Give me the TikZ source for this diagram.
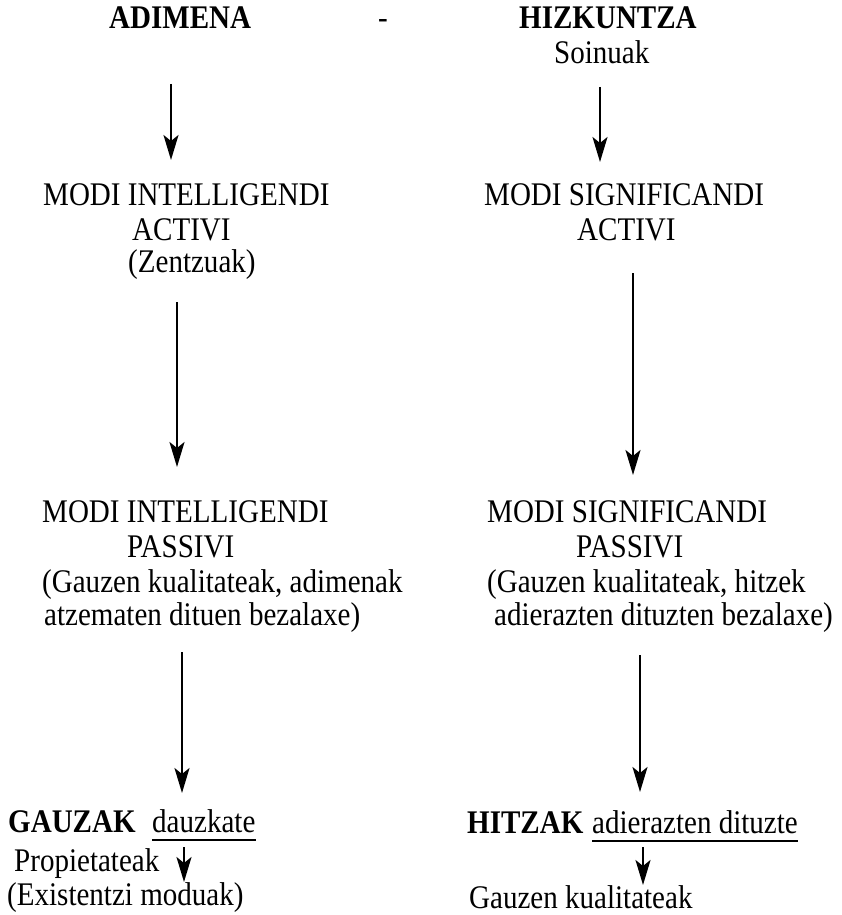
\documentclass[tikz,border=0pt]{standalone}
\usepackage{fontspec}
\setmainfont{Liberation Serif}[FakeStretch=0.88]
\usepackage{tikz}
\usetikzlibrary{arrows.meta}
\tikzstyle{txt}=[inner sep=0pt,anchor=base west,font=\fontsize{33}{37}\selectfont]
\tikzstyle{edge} = [draw,line width=2.2pt,-{Stealth[length=25pt,width=15pt,inset=6pt]}]
\tikzstyle{uline} = [draw,line width=1.2pt]

\begin{document}
\begin{tikzpicture}[x=1pt,y=-1pt]
      \useasboundingbox (0,0) rectangle (842,915);
      % header
      \node[txt] (adim) at (109,29) {\bfseries ADIMENA};
      \node[txt] (dash) at (378,29) {-};
      \node[txt] (hizk) at (519,29) {\bfseries HIZKUNTZA};
      \node[txt] (soin) at (554,64) {Soinuak};
      % activi
      \node[txt] (mia1) at (43,205) {MODI INTELLIGENDI};
      \node[txt] (mia2) at (132,240) {ACTIVI};
      \node[txt] (mia3) at (128,272) {(Zentzuak)};
      \node[txt] (msa1) at (484,205) {MODI SIGNIFICANDI};
      \node[txt] (msa2) at (577,240) {ACTIVI};
      % passivi
      \node[txt] (mip1) at (42,522) {MODI INTELLIGENDI};
      \node[txt] (mip2) at (127,557) {PASSIVI};
      \node[txt] (mip3) at (42,592) {(Gauzen kualitateak, adimenak};
      \node[txt] (mip4) at (44,625) {atzematen dituen bezalaxe)};
      \node[txt] (msp1) at (487,522) {MODI SIGNIFICANDI};
      \node[txt] (msp2) at (576,557) {PASSIVI};
      \node[txt] (msp3) at (487,592) {(Gauzen kualitateak, hitzek};
      \node[txt] (msp4) at (494,625) {adierazten dituzten bezalaxe)};
      % bottom
      \node[txt] (gauz) at (8,832) {\bfseries GAUZAK};
      \node[txt] (dauz) at (152,832) {dauzkate};
      \node[txt] (prop) at (14,871) {Propietateak};
      \node[txt] (exis) at (7,905) {(Existentzi moduak)};
      \node[txt] (hitz) at (467,833) {\bfseries HITZAK};
      \node[txt] (adie) at (592,833) {adierazten dituzte};
      \node[txt] (kual) at (469,908) {Gauzen kualitateak};
      \draw[uline] ([yshift=-8pt]dauz.base west) -- ([yshift=-8pt]dauz.base east);
      \draw[uline] ([yshift=-8pt]adie.base west) -- ([yshift=-8pt]adie.base east);
      % arrow ends
      \coordinate (a1) at (171,84);  \coordinate (a2) at (171,160);
      \coordinate (b1) at (600,87);  \coordinate (b2) at (600,162);
      \coordinate (c1) at (177,302); \coordinate (c2) at (177,467);
      \coordinate (d1) at (633,273); \coordinate (d2) at (633,475);
      \coordinate (e1) at (182,652); \coordinate (e2) at (182,793);
      \coordinate (f1) at (640,655); \coordinate (f2) at (640,792);
      \coordinate (g1) at (184,847); \coordinate (g2) at (184,882);
      \coordinate (h1) at (643,847); \coordinate (h2) at (643,885);
      \draw[edge] (a1) to (a2);
      \draw[edge] (b1) to (b2);
      \draw[edge] (c1) to (c2);
      \draw[edge] (d1) to (d2);
      \draw[edge] (e1) to (e2);
      \draw[edge] (f1) to (f2);
      \draw[edge] (g1) to (g2);
      \draw[edge] (h1) to (h2);
\end{tikzpicture}
\end{document}
